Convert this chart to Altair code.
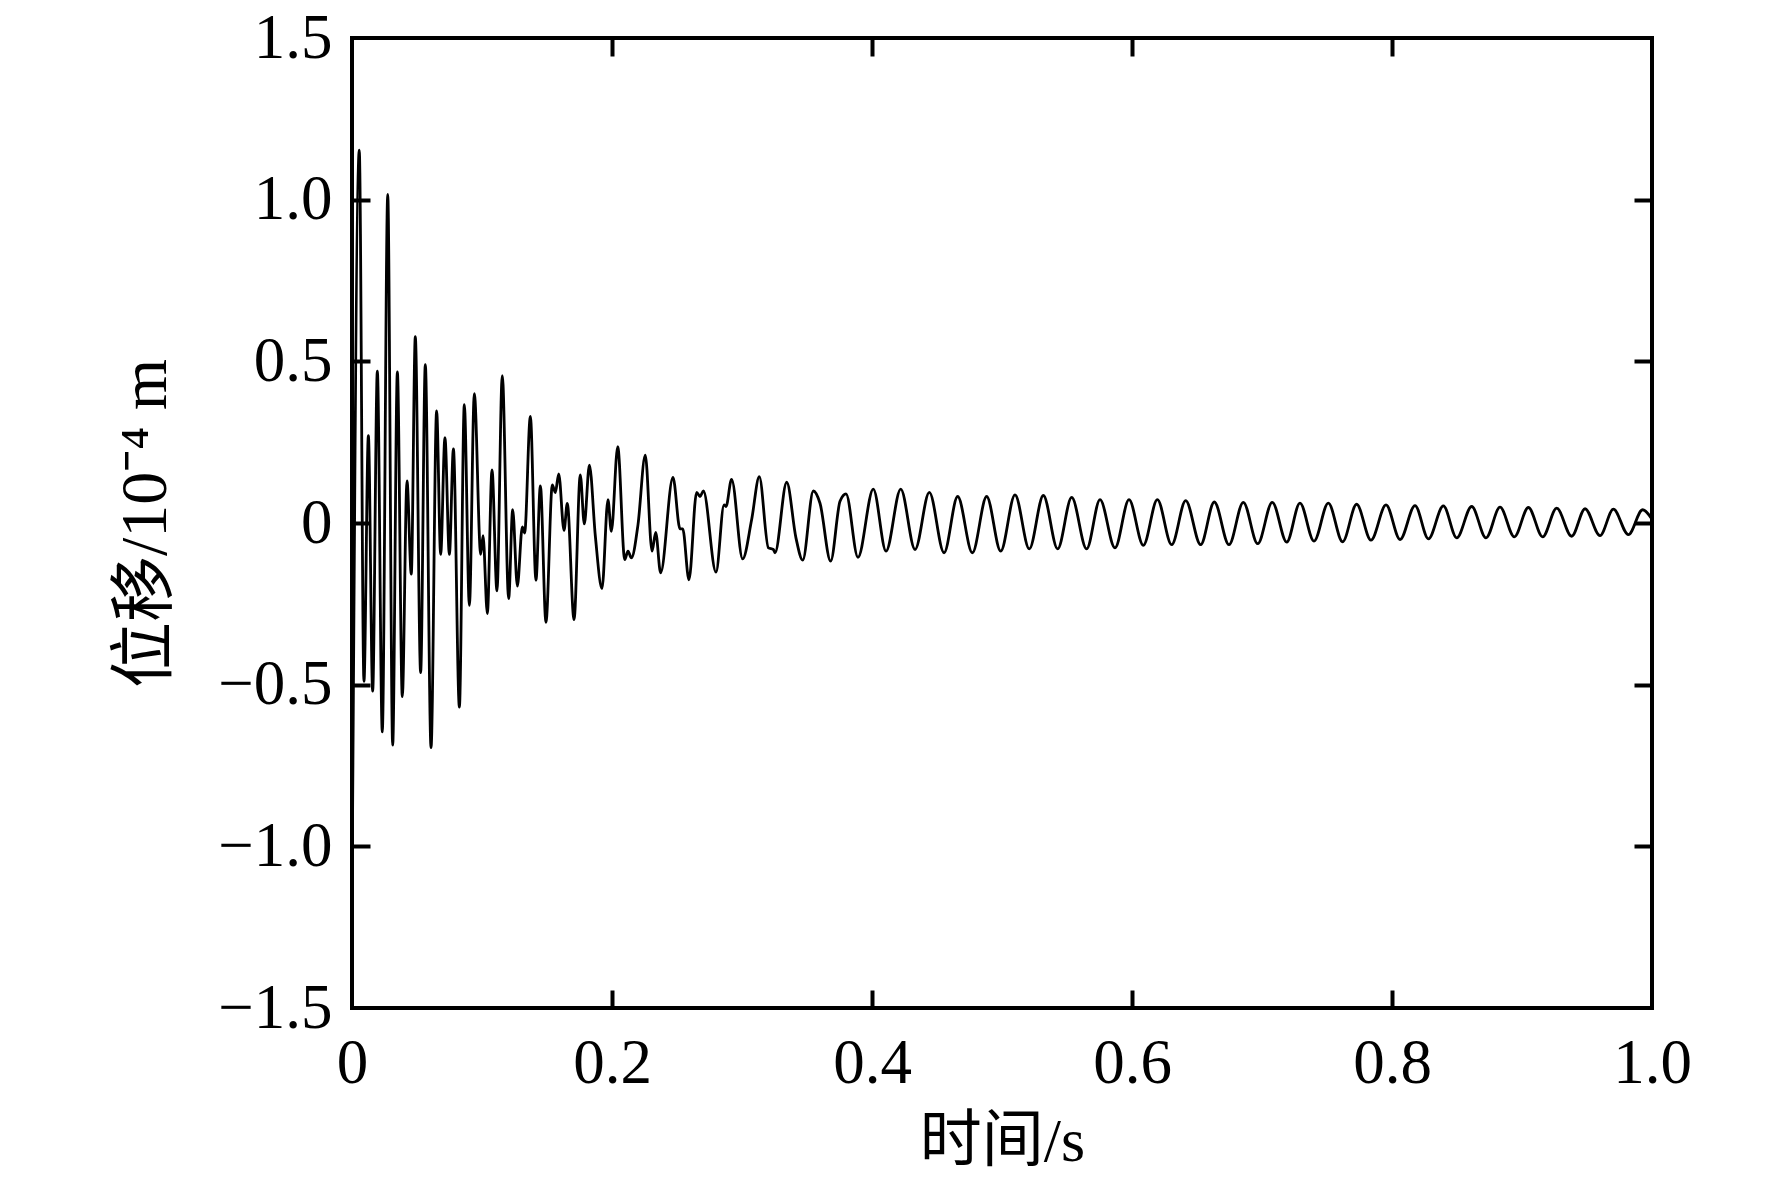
import altair as alt
import pandas as pd

# time (s) and displacement (1e-4 m) (extrema and shoulders)
t_vals = [
    0.0, 0.0056, 0.0092, 0.0126, 0.0159, 0.0195, 0.0233, 0.0275, 0.0313, 0.0349,
    0.0387, 0.0423, 0.0456, 0.0487, 0.0528, 0.0564, 0.0608, 0.0651, 0.0682, 0.0715,
    0.0749, 0.078, 0.0826, 0.0864, 0.0903, 0.0941, 0.099, 0.1008, 0.1041, 0.1077,
    0.1115, 0.1156, 0.1205, 0.1236, 0.1272, 0.131, 0.1328, 0.1372, 0.1415, 0.1449,
    0.1492, 0.1541, 0.1564, 0.159, 0.1631, 0.1656, 0.1708, 0.1756, 0.1787, 0.1826,
    0.1872, 0.1923, 0.1969, 0.1995, 0.2044, 0.2098, 0.2123, 0.2149, 0.22, 0.2256,
    0.2308, 0.2336, 0.2374, 0.2469, 0.2523, 0.2544, 0.2592, 0.2651, 0.2677, 0.2703,
    0.28, 0.2862, 0.2877, 0.292, 0.3005, 0.3074, 0.3133, 0.3203, 0.3241, 0.3254,
    0.3344, 0.3415, 0.3467, 0.3549, 0.36, 0.3682, 0.3754, 0.38, 0.3892, 0.401,
    0.4108, 0.4221, 0.4331, 0.4441, 0.4554, 0.4659, 0.4772, 0.4882, 0.499, 0.51,
    0.521, 0.5318, 0.5428, 0.5536, 0.5651, 0.5754, 0.5869, 0.5977, 0.6087, 0.6195,
    0.6305, 0.6413, 0.6528, 0.6633, 0.6746, 0.6856, 0.6967, 0.7079, 0.719, 0.7292,
    0.74, 0.751, 0.762, 0.7728, 0.7838, 0.7954, 0.8062, 0.8177, 0.828, 0.8395,
    0.8498, 0.8613, 0.8723, 0.8831, 0.8941, 0.9049, 0.9159, 0.9267, 0.9382, 0.9485,
    0.96, 0.9703, 0.9818, 0.9928, 1.0,
]
disp_vals = [
    -1.18, 1.153, -0.49, 0.27, -0.52, 0.47, -0.646, 1.016, -0.687, 0.467,
    -0.537, 0.13, -0.158, 0.576, -0.463, 0.49, -0.695, 0.347, -0.097, 0.264,
    -0.097, 0.229, -0.569, 0.366, -0.255, 0.40, -0.097, -0.039, -0.28, 0.164,
    -0.21, 0.456, -0.234, 0.041, -0.195, -0.012, -0.031, 0.33, -0.177, 0.115,
    -0.307, 0.118, 0.094, 0.152, -0.023, 0.061, -0.299, 0.149, -0.003, 0.179,
    -0.041, -0.203, 0.072, -0.026, 0.236, -0.113, -0.087, -0.108, -0.005, 0.21,
    -0.087, -0.029, -0.154, 0.141, -0.018, -0.018, -0.176, 0.095, 0.082, 0.099,
    -0.152, 0.056, 0.051, 0.135, -0.111, 0.01, 0.143, -0.077, -0.082, -0.092,
    0.126, -0.046, -0.115, 0.099, 0.061, -0.118, 0.067, 0.09, -0.106, 0.105,
    -0.087, 0.105, -0.082, 0.095, -0.092, 0.082, -0.092, 0.082, -0.087, 0.087,
    -0.080, 0.085, -0.080, 0.079, -0.080, 0.072, -0.077, 0.072, -0.069, 0.072,
    -0.067, 0.069, -0.067, 0.065, -0.067, 0.064, -0.064, 0.064, -0.059, 0.0615,
    -0.056, 0.0615, -0.058, 0.058, -0.053, 0.056, -0.051, 0.054, -0.049, 0.053,
    -0.046, 0.051, -0.046, 0.049, -0.043, 0.048, -0.043, 0.046, -0.041, 0.044,
    -0.039, 0.043, -0.036, 0.041, 0.012,
]

x_label_values = [0, 0.2, 0.4, 0.6, 0.8, 1.0]
x_tick_values = [0.2, 0.4, 0.6, 0.8]
y_label_values = [-1.5, -1.0, -0.5, 0, 0.5, 1.0, 1.5]
y_tick_values = [-1.0, -0.5, 0, 0.5, 1.0]

x_title = "时间/s"
y_title = "位移/10⁻⁴ m"

df = pd.DataFrame({"t": t_vals, "d": disp_vals})

NUM_FONT = "Liberation Serif"
TXT_FONT = "Liberation Serif, Noto Sans CJK SC"
TICK_LEN = 18
FRAME_W = 4

xscale = alt.Scale(domain=[0, 1], nice=False, zero=False)
yscale = alt.Scale(domain=[-1.5, 1.5], nice=False, zero=False)

label_expr = "datum.value == 0 ? '0' : replace(format(datum.value, '.1f'), '-', '\u2212')"

base = alt.Chart(df)

main = base.mark_line(color="black", strokeWidth=2.8, interpolate="monotone", clip=True).encode(
    x=alt.X("t:Q", scale=xscale, axis=alt.Axis(
        orient="bottom", values=x_label_values, labelExpr=label_expr,
        ticks=False, tickSize=0, domain=False, grid=False, labelFlush=False,
        labelFont=NUM_FONT, labelFontSize=63, labelColor="black", labelPadding=24,
        title=x_title, titleFont=TXT_FONT, titleFontSize=62, titleFontWeight="normal",
        titleColor="black", titlePadding=16)),
    y=alt.Y("d:Q", scale=yscale, axis=alt.Axis(
        orient="left", values=y_label_values, labelExpr=label_expr,
        ticks=False, tickSize=0, domain=False, grid=False, labelFlush=False,
        labelFont=NUM_FONT, labelFontSize=63, labelColor="black", labelPadding=20,
        title=y_title, titleFont=TXT_FONT, titleFontSize=66, titleFontWeight="normal",
        titleColor="black", titlePadding=38)),
)


def tick_layer(xorient, yorient):
    return base.mark_line(strokeOpacity=0).encode(
        x=alt.X("t:Q", scale=xscale, axis=alt.Axis(
            orient=xorient, values=x_tick_values, labels=False, domain=False, grid=False,
            ticks=True, tickSize=TICK_LEN, tickWidth=FRAME_W, tickColor="black",
            offset=-TICK_LEN, title="")),
        y=alt.Y("d:Q", scale=yscale, axis=alt.Axis(
            orient=yorient, values=y_tick_values, labels=False, domain=False, grid=False,
            ticks=True, tickSize=TICK_LEN, tickWidth=FRAME_W, tickColor="black",
            offset=-TICK_LEN, title="")),
    )


chart = alt.layer(
    main,
    tick_layer("bottom", "left"),
    tick_layer("top", "right"),
).resolve_axis(x="independent", y="independent").properties(
    width=1300,
    height=970,
    autosize=alt.AutoSizeParams(type="none"),
    padding={"left": 344, "top": 30, "right": 100, "bottom": 170},
    background="white",
).configure_view(stroke="black", strokeWidth=FRAME_W)

chart.save("out.html", embed_options={"renderer": "svg", "actions": False})
